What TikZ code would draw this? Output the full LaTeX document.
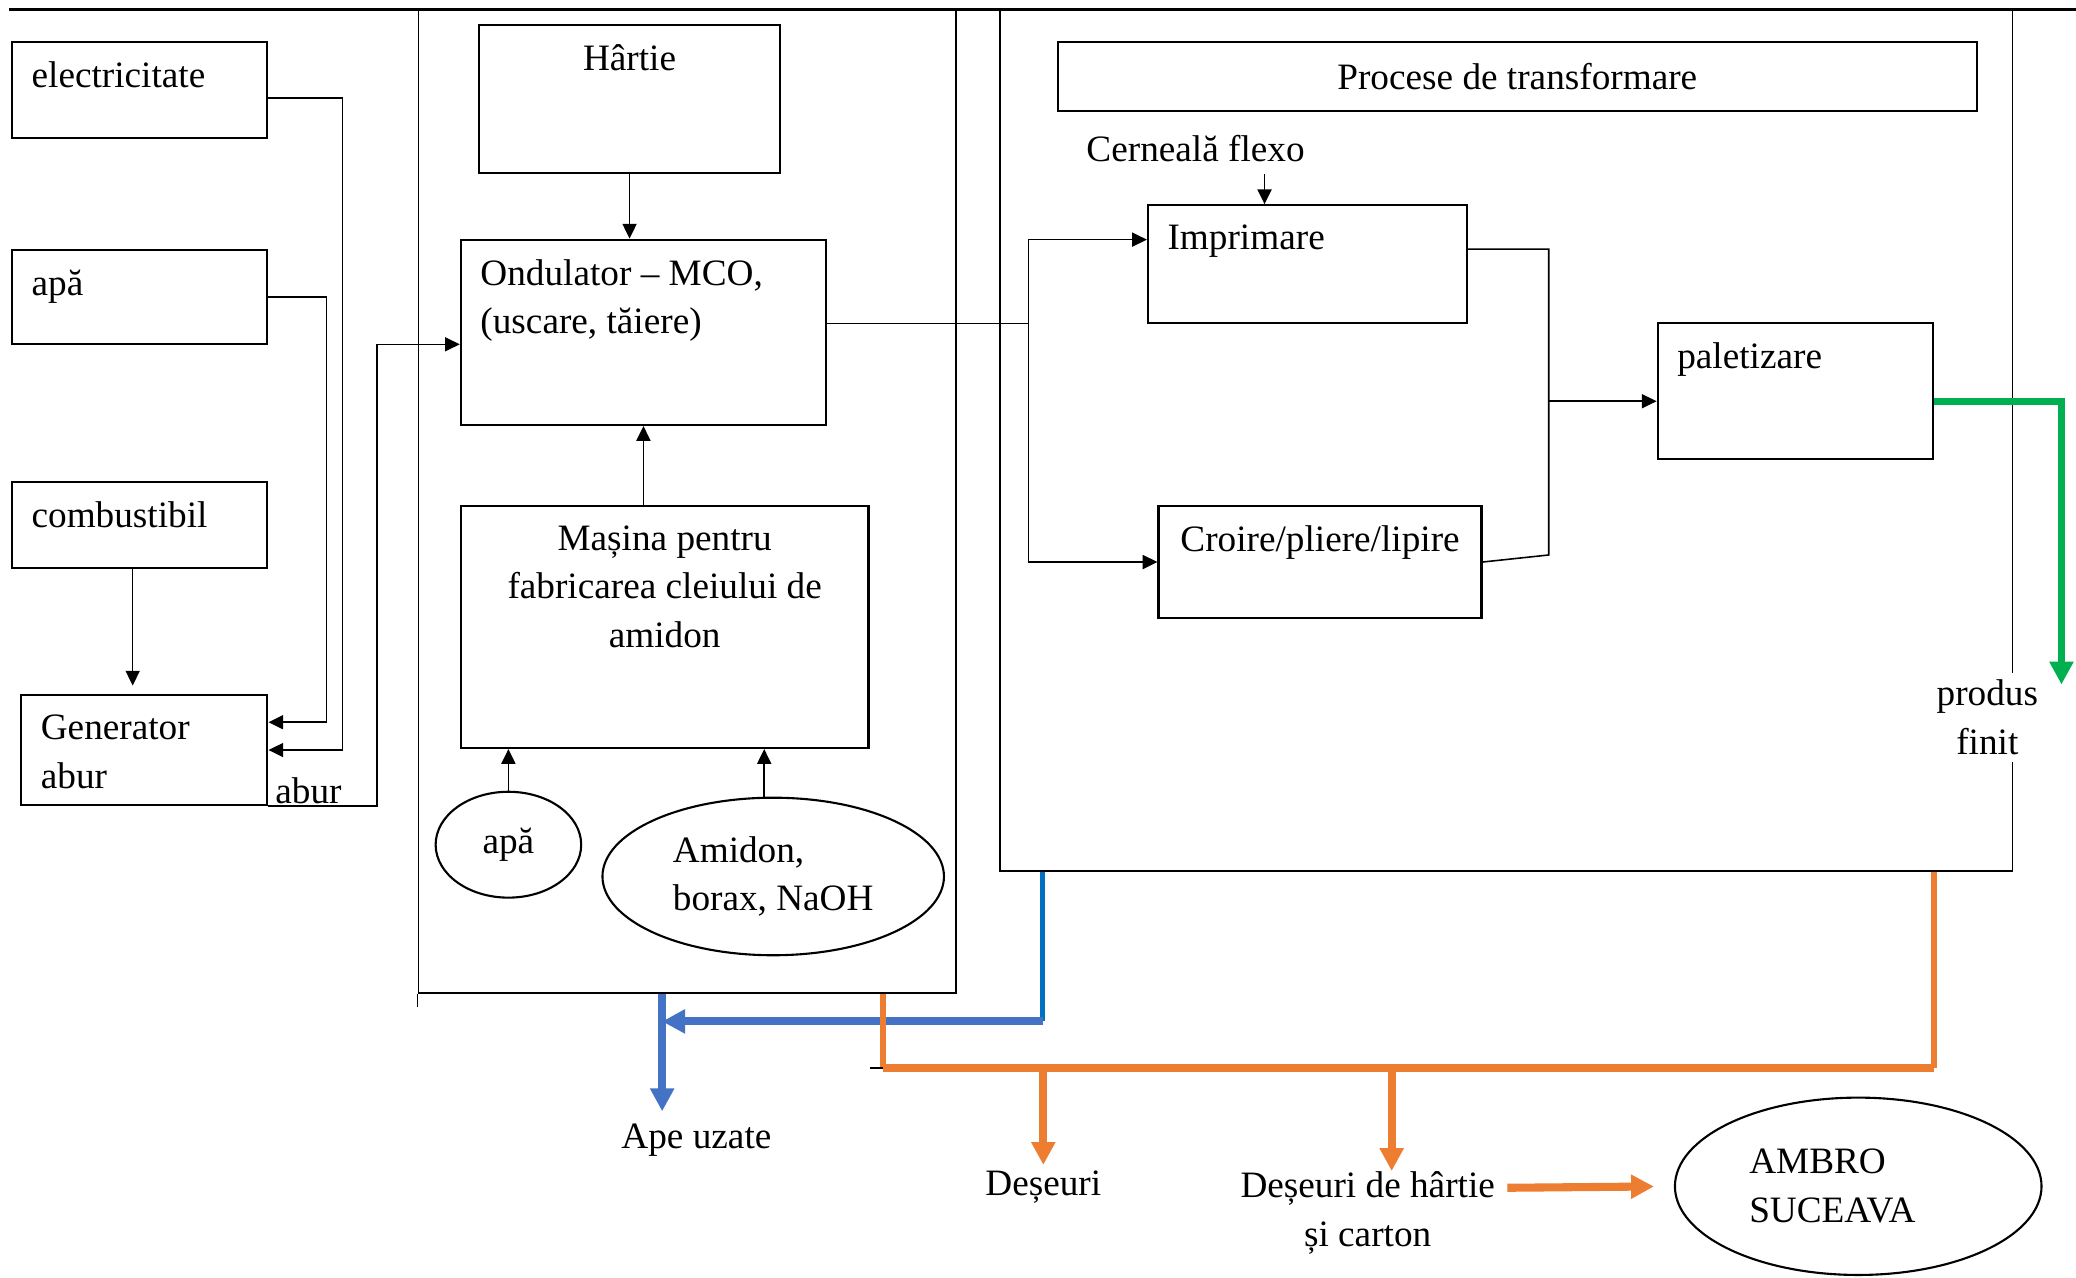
\documentclass[tikz,border=0pt]{standalone}
\usepackage{fontspec}
\setmainfont{Liberation Serif}
\usepackage{xcolor}
\usetikzlibrary{arrows.meta, positioning, shapes.geometric}
\definecolor{waterblue}{HTML}{4472C4}
\definecolor{pipeblue}{HTML}{0070C0}
\definecolor{wasteorange}{HTML}{ED7D31}
\definecolor{prodgreen}{HTML}{00B050}

\begin{document}
\begin{tikzpicture}[x=0.01324cm, y=-0.01324cm,
    every node/.style={font=\fontsize{10.6}{13.9}\selectfont},
    box/.style={draw, line width=0.6pt, rectangle, inner sep=0pt},
    zone/.style={draw, line width=0.45pt, rectangle, inner sep=0pt},
    oval/.style={draw, line width=0.6pt, ellipse, inner sep=1pt},
    lbl/.style={inner sep=0.2cm},
    tlbox/.style={box, label={[lbl, anchor=north west, align=left]north west:#1}},
    tcbox/.style={box, label={[lbl, anchor=north, align=center]north:#1}},
    wire/.style={line width=0.45pt},
    arr/.style={wire, -{Triangle[length=4.2pt, width=4pt]}},
    fat/.style={line width=2.3pt, -{Triangle[length=6.5pt, width=6.5pt]}},
  ]
    \useasboundingbox (0,0) rectangle (1568,965);

    \node[zone, minimum width=5.375cm, minimum height=9.837cm] (mframe) at (519,378.5) {};
    \node[zone, minimum width=10.129cm, minimum height=8.619cm] (rframe) at (1137.5,332.5) {};
    \draw[line width=0.9pt] (7,7) -- (1568,7);
    \draw[wire] (mframe.south west) -- ++(0,10);

    \node[tlbox=electricitate, minimum width=2.555cm, minimum height=0.953cm] (elec) at (105.5,68) {};
    \node[tlbox=apă, minimum width=2.555cm, minimum height=0.94cm] (apa) at (105.5,224.5) {};
    \node[tlbox=combustibil, minimum width=2.555cm, minimum height=0.861cm] (comb) at (105.5,396.5) {};
    \node[tlbox={Generator\\abur}, minimum width=2.463cm, minimum height=1.099cm] (gen) at (109,566.5) {};
    \node (abur) at (233,597) {abur};

    \node[tcbox=Hârtie, minimum width=3.005cm, minimum height=1.483cm] (hartie) at (475.5,75) {};
    \node[tlbox={Ondulator – MCO,\\(uscare, tăiere)}, minimum width=3.654cm, minimum height=1.854cm] (ond) at (486,251) {};
    \node[tcbox={Mașina pentru\\fabricarea cleiului de\\amidon}, minimum width=4.078cm, minimum height=2.423cm] (masina) at (502,473.5) {};
    \node[oval, minimum width=1.456cm, minimum height=1.059cm] (apa2) at (384,638) {apă};
    \node[oval, align=left, minimum width=3.416cm, minimum height=1.576cm] (amidon) at (584,662) {Amidon,\\borax, NaOH};

    \node[box, minimum width=9.189cm, minimum height=0.688cm] (procese) at (1146,58) {Procese de transformare};
    \node (cerneala) at (903,112) {Cerneală flexo};
    \node[tlbox=Imprimare, minimum width=3.191cm, minimum height=1.178cm] (imprim) at (987.5,199.5) {};
    \node[tcbox=Croire/pliere/lipire, minimum width=3.231cm, minimum height=1.125cm] (croire) at (997,424.5) {};
    \node[tlbox=paletizare, minimum width=2.754cm, minimum height=1.364cm] (palet) at (1356,295.5) {};
    \node[fill=white, align=center, inner sep=2pt] (produs) at (1501,542) {produs\\finit};

    \node (ape) at (526,861) {Ape uzate};
    \node (deseuri) at (788,897) {Deșeuri};
    \node[align=center] (deshartie) at (1033,916) {Deșeuri de hârtie\\și carton};
    \node[oval, align=left, text width=2.18cm, minimum width=3.667cm, minimum height=1.774cm] (ambro) at (1403.5,896) {AMBRO\\SUCEAVA};

    \draw[arr] ([yshift=-0.08cm]elec.east) -- ++(56,0) |- (gen.east);
    \draw[arr] (apa.east) -- ++(44,0) |- ([yshift=0.278cm]gen.east);
    \draw[arr] ([xshift=-0.07cm]comb.south) -- ++(0,88);
    \draw[arr] (gen.south east) -- ++(82,0) |- ([yshift=-0.12cm]ond.west);

    \draw[arr] (hartie.south) -- (hartie.south |- ond.north);
    \draw[arr] (ond.south |- masina.north) -- (ond.south);
    \draw[arr] (apa2.north) -- (apa2.north |- masina.south);
    \coordinate (starch) at ([xshift=-0.09cm]amidon.north);
    \draw[arr] (starch) -- (starch |- masina.south);

    \coordinate (ondout) at ([yshift=0.09cm]ond.east);
    \draw[arr] (ondout) -- ++(152,0) |- ([yshift=0.245cm]imprim.west);
    \draw[arr] (ondout) -- ++(152,0) |- (croire.west);
    \coordinate (ink) at ([xshift=0.69cm]cerneala.south);
    \draw[arr] (ink) -- (ink |- imprim.north);
    \draw[wire] ([yshift=0.15cm]imprim.east) -- ++(61,0) coordinate (join) -- ++(0,231) -- (croire.east);
    \coordinate (paletin) at ([yshift=-0.1cm]palet.west);
    \draw[arr] (join |- paletin) -- (paletin);

    \coordinate (finit) at (1557,517);
    \draw[fat, prodgreen, line width=1.9pt] ([yshift=-0.1cm]palet.east) -| (finit);

    \coordinate (wv) at ([xshift=-0.25cm]mframe.south);
    \draw[pipeblue, line width=1.6pt] ([xshift=0.437cm]rframe.south west) -- ++(0,113) coordinate (wh);
    \draw[fat, waterblue] (wh) -- (wh -| wv);
    \draw[fat, waterblue] (wv) -- (wv |- ape.north);

    \coordinate (ov) at ([xshift=1.96cm]mframe.south);
    \coordinate (or) at ([xshift=-0.794cm]rframe.south east);
    \draw[wasteorange, line width=1.8pt] (ov) -- ++(0,56) coordinate (oh);
    \draw[wasteorange, line width=1.8pt] (or) -- (or |- oh);
    \draw[wasteorange, line width=2.3pt] (oh) -- (oh -| or);
    \draw[wire] (oh) -- ++(-10,0);
    \draw[fat, wasteorange, shorten >=-0.06cm] (oh -| deseuri.north) -- (deseuri.north);
    \coordinate (dh) at ([xshift=0.24cm, yshift=-0.12cm]deshartie.north);
    \draw[fat, wasteorange] (oh -| dh) -- (dh);
    \draw[fat, wasteorange, shorten >=0.2cm] ([yshift=0.25cm]deshartie.east) -- (ambro.west);
\end{tikzpicture}
\end{document}
